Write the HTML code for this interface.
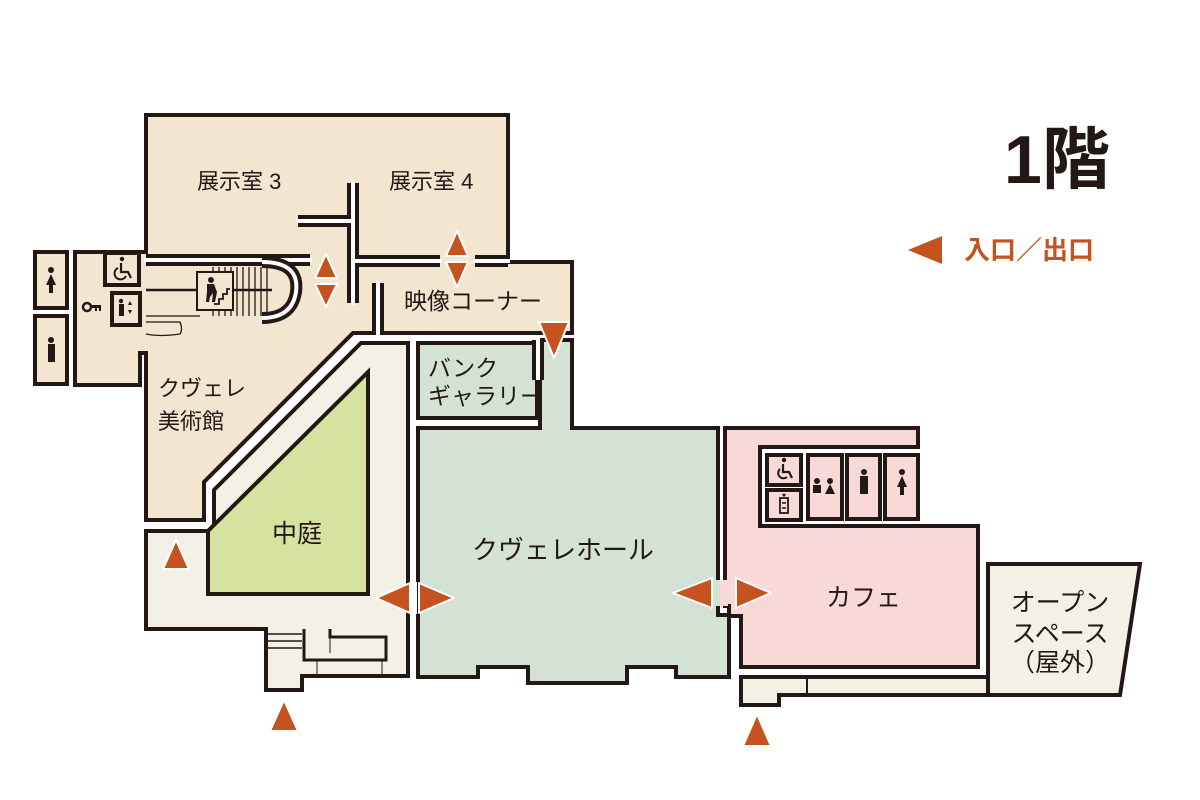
<!DOCTYPE html>
<html><head><meta charset="utf-8"><style>
html,body{margin:0;padding:0;background:#fff;}
svg{display:block;}
text{font-family:"Liberation Sans","Noto Sans CJK JP",sans-serif;fill:#231815;}
</style></head><body>
<svg width="1200" height="800" viewBox="0 0 1200 800" xmlns="http://www.w3.org/2000/svg">
<g stroke="#231815" stroke-width="4" stroke-linejoin="miter">
<polygon fill="#f3e6d1" points="146,115 508,115 508,262 572,262 572,333 353,333 204,482 204,520 146,520 146,353 140,353 140,385 75,385 75,252 146,252"/>
<rect x="35" y="252" width="32" height="56" fill="#f3e6d1"/>
<rect x="35" y="316" width="32" height="68" fill="#f3e6d1"/>
<rect x="105" y="253" width="34" height="32" fill="#f3e6d1"/>
<rect x="112" y="293" width="28" height="32" fill="#f3e6d1"/>
<polygon fill="#f3f1e6" points="361,343 408,343 408,629 408,676 302,676 302,690 266,690 266,629 146,629 146,531 208,531 214,525 214,490"/>
<polygon fill="#d6e2a0" points="208,531 368,372 368,594 208,594"/>
<rect x="418" y="343" width="119" height="75" fill="#d4e2d5"/>
<polygon fill="#d4e2d5" points="418,428 540,428 540,340 572,340 572,428 718,428 718,615 729,615 729,677 676,677 676,667 627,667 627,683 528,683 528,667 478,667 478,677 418,677"/>
<polygon fill="#f8d9d8" points="725,428 918,428 918,447 760,447 760,526 978,526 978,667 741,667 741,616 729,616 729,606 725,606"/>
<rect x="767" y="455" width="34" height="30" fill="#f8d9d8"/>
<rect x="767" y="490" width="34" height="30" fill="#f8d9d8"/>
<rect x="808" y="455" width="34" height="64" fill="#f8d9d8"/>
<rect x="847" y="455" width="33" height="64" fill="#f8d9d8"/>
<rect x="885" y="455" width="33" height="64" fill="#f8d9d8"/>
<polygon fill="#f3f1e6" points="988,564 1140,564 1120,695 988,695"/>
<polygon fill="#f3f1e6" points="741,677 988,677 988,695 779,695 779,705 741,705"/>
</g>
<g stroke="#231815" stroke-width="2" fill="none">
<line x1="807" y1="677" x2="807" y2="695"/>
<polyline points="330,629 330,637 386,637 386,660 304,660 304,629" stroke-width="3"/>
<line x1="330" y1="637" x2="330" y2="653" stroke-width="1"/>
<line x1="317" y1="660" x2="317" y2="676" stroke-width="1"/>
<line x1="382" y1="660" x2="382" y2="676" stroke-width="1"/>
<line x1="266" y1="634" x2="302" y2="634" stroke-width="1.5"/>
<line x1="266" y1="641" x2="302" y2="641" stroke-width="1.5"/>
<line x1="266" y1="648" x2="302" y2="648" stroke-width="1.5"/>
</g>
<g fill="none" stroke-linecap="butt">
<g stroke="#231815" stroke-width="12">
<polyline points="353,183 353,303"/>
<polyline points="298,221 353,221"/>
<polyline points="353,261 440,261"/>
<polyline points="475,261 508,261"/>
<polyline points="378,283 378,333"/>
<polyline points="146,260 310,260"/>
<line x1="538" y1="340" x2="538" y2="380"/>
</g>
<g stroke="#fff" stroke-width="4">
<polyline points="353,181 353,305"/>
<polyline points="296,221 353,221"/>
<polyline points="353,261 442,261"/>
<polyline points="473,261 510,261"/>
<polyline points="378,281 378,335"/>
<polyline points="144,260 312,260"/>
<line x1="538" y1="338" x2="538" y2="380"/>
</g>
<path d="M262,262 Q300,262 296,292 Q292,318 262,318" stroke="#231815" stroke-width="12"/>
<path d="M262,262 Q300,262 296,292 Q292,318 262,318" stroke="#fff" stroke-width="4"/>
</g>
<g stroke="#231815" stroke-width="1.3">
<line x1="213" y1="267" x2="213" y2="316"/><line x1="219" y1="267" x2="219" y2="316"/>
<line x1="225" y1="267" x2="225" y2="316"/><line x1="231" y1="267" x2="231" y2="316"/>
<line x1="237" y1="267" x2="237" y2="316"/><line x1="243" y1="267" x2="243" y2="316"/>
<line x1="249" y1="267" x2="249" y2="316"/><line x1="255" y1="267" x2="255" y2="316"/>
<line x1="261" y1="267" x2="261" y2="316"/><line x1="267" y1="267" x2="267" y2="316"/>
<line x1="146" y1="290" x2="272" y2="290" stroke-width="2.5"/>
<line x1="146" y1="316" x2="200" y2="316"/>
<path d="M146,322 L180,322 Q183,330 180,334 Q160,337 146,334" fill="none"/>
</g>
<rect x="197" y="272" width="36" height="38" fill="#f3e6d1" stroke="#231815" stroke-width="2"/>
<g fill="#231815">
<circle cx="211" cy="280" r="3"/>
<path d="M207,284 L214,284 L217,292 L215,302 L212,302 L213,293 L210,297 L209,302 L206,302 L207,292 Z"/>
<polyline points="214,304 219,304 219,299 223,299 223,294 227,294 227,289 230,289" fill="none" stroke="#231815" stroke-width="1.8"/>
</g>
<g fill="#231815">
<circle cx="51" cy="270" r="3"/><path d="M51,274 L46,285 L49,285 L49,293 L53,293 L53,285 L56,285 Z"/>
<circle cx="51" cy="340" r="3"/><rect x="48" y="344" width="7" height="18"/>
<circle cx="87" cy="307" r="4" fill="none" stroke="#231815" stroke-width="2.5"/><rect x="91" y="305" width="10" height="3"/><rect x="95" y="305" width="2" height="6"/><rect x="99" y="305" width="2" height="6"/>
<circle cx="122" cy="259" r="2.2"/>
<path d="M121,263 L121,272 L128,272 L131,278" fill="none" stroke="#231815" stroke-width="2.2"/>
<path d="M118,268 A6,6 0 1 0 126,276" fill="none" stroke="#231815" stroke-width="2"/>
<circle cx="121" cy="301" r="2.2"/><rect x="119" y="304" width="5" height="12"/>
<polygon points="128,305 132,305 130,301"/><polygon points="128,310 132,310 130,314"/>
<circle cx="784" cy="460" r="2.2"/>
<path d="M783,464 L783,472 L789,472 L792,478" fill="none" stroke="#231815" stroke-width="2.2"/>
<path d="M780,469 A5,5 0 1 0 787,477" fill="none" stroke="#231815" stroke-width="2"/>
<rect x="780" y="498" width="8" height="15" fill="none" stroke="#231815" stroke-width="1.8"/>
<line x1="782" y1="503" x2="786" y2="503" stroke="#231815" stroke-width="1.5"/><line x1="782" y1="508" x2="786" y2="508" stroke="#231815" stroke-width="1.5"/>
<circle cx="784" cy="495" r="1.5"/>
<circle cx="817" cy="481" r="3"/><rect x="813" y="485" width="8" height="8"/>
<circle cx="830" cy="481" r="3"/><polygon points="830,484 825,494 835,494"/>
<circle cx="864" cy="472" r="3"/><rect x="860" y="476" width="8" height="18"/>
<circle cx="902" cy="472" r="3"/><path d="M902,476 L897,487 L900,487 L900,495 L904,495 L904,487 L907,487 Z"/>
</g>
<rect x="409" y="582" width="8" height="32" fill="#fff"/>
<rect x="716" y="580" width="12" height="26" fill="#f8d9d8"/>
<rect x="716" y="580" width="4" height="26" fill="#d4e2d5"/>
<g fill="#c4531f" stroke="#fff" stroke-width="2" stroke-linejoin="round">
<polygon points="176,540 189,569 163,569"/>
<polygon points="284,700 298,731 270,731"/>
<polygon points="757,714 771,746 743,746"/>
<polygon points="376,598 410,583 410,613"/>
<polygon points="419,583 419,613 454,598"/>
<polygon points="673,593 712,578 712,608"/>
<polygon points="736,578 736,608 771,593"/>
<polygon points="539,322 569,322 554,358"/>
<polygon points="326,254 337,278 315,278"/>
<polygon points="315,284 337,284 326,307"/>
<polygon points="457,231 468,256 446,256"/>
<polygon points="446,262 468,262 457,287"/>
</g>
<polygon points="908,250 942,236 942,264" fill="#c4531f"/>
<g font-size="22">
<text x="197" y="189">展示室 3</text>
<text x="389" y="189">展示室 4</text>
<text x="404" y="309" font-size="23">映像コーナー</text>
<text x="428" y="376" font-size="23">バンク</text>
<text x="428" y="404" font-size="23">ギャラリー</text>
<text x="158" y="396">クヴェレ</text>
<text x="158" y="429">美術館</text>
<text x="272" y="542" font-size="25">中庭</text>
<text x="472" y="559" font-size="26">クヴェレホール</text>
<text x="826" y="606" font-size="25">カフェ</text>
<text x="1060" y="611" font-size="25" text-anchor="middle">オープン</text>
<text x="1060" y="642" font-size="25" text-anchor="middle">スペース</text>
<text x="1060" y="671" font-size="25" text-anchor="middle">（屋外）</text>
</g>
<text x="1004" y="183" font-size="68" font-weight="bold">1階</text>
<text x="964" y="259" font-size="26" font-weight="bold" style="fill:#c4531f">入口／出口</text>
</svg>
</body></html>
